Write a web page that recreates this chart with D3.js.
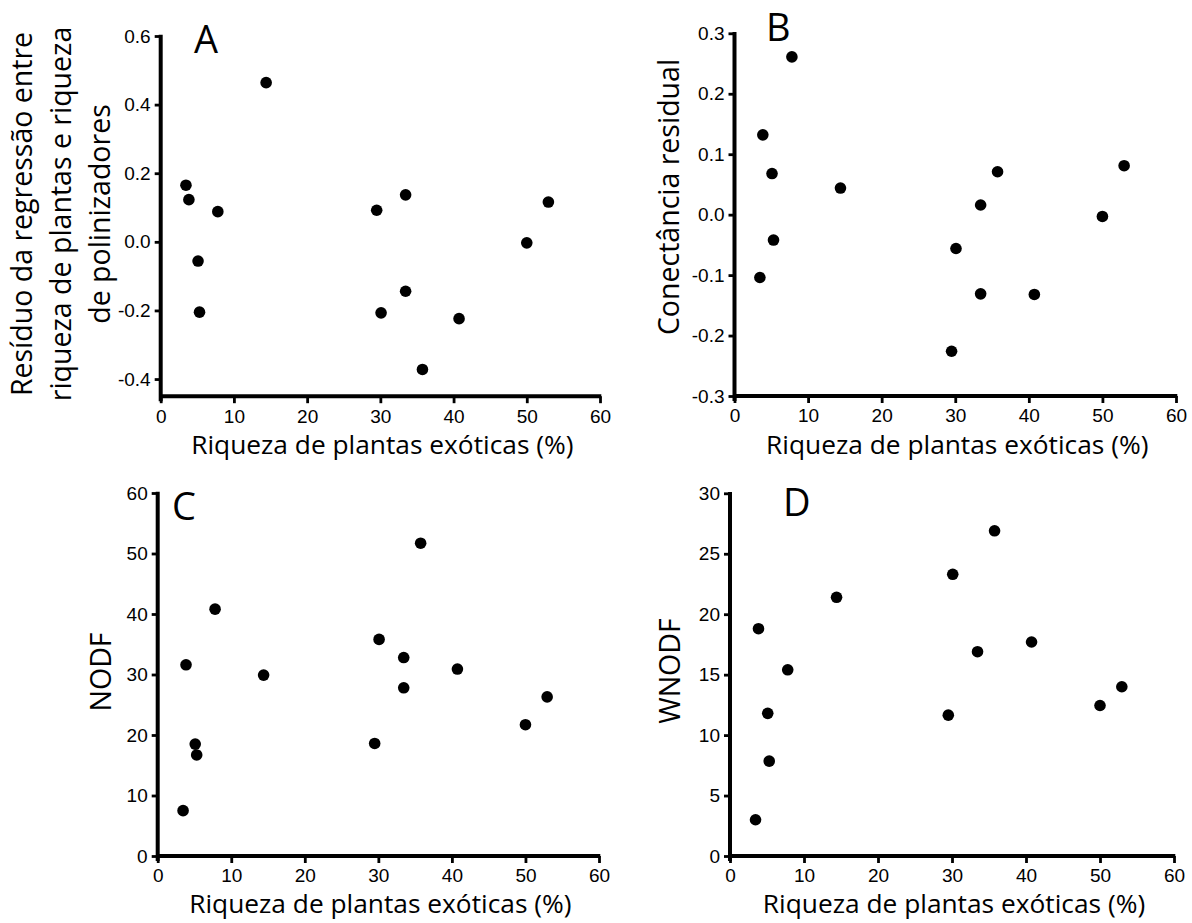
<!DOCTYPE html>
<html>
<head>
<meta charset="utf-8">
<script src="https://cdn.jsdelivr.net/npm/d3@7"></script>
<style>
  body { margin: 0; background: #fff; }
  svg { display: block; }
  .tick text { font-family: "Liberation Sans", Arial, sans-serif; }
</style>
</head>
<body>
<div id="chart"></div>
<script>
// % exotic plant richness per site (same sites in every panel)
const exoticRichness = [3.45, 3.85, 5.1, 5.3, 7.8, 14.4, 29.5, 30.1, 33.45, 33.45, 35.75, 40.75, 50.0, 52.95];

// A: residual of plant richness vs pollinator richness regression
const richnessResidual = [0.165, 0.123, -0.056, -0.205, 0.088, 0.464, 0.092, -0.207, 0.137, -0.144, -0.372, -0.224, -0.003, 0.116];
// B: residual connectance
const connectanceResidual = [-0.104, 0.132, 0.068, -0.042, 0.261, 0.044, -0.226, -0.056, 0.016, -0.131, 0.071, -0.132, -0.003, 0.081];
// C: NODF
const nodf = [7.5, 31.6, 18.5, 16.7, 40.8, 29.9, 18.6, 35.8, 32.8, 27.8, 51.7, 30.9, 21.7, 26.3];
// D: WNODF (one site not visible in the figure)
const wnodf = [3.0, 18.8, 11.8, 7.85, 15.4, 21.4, 11.65, 23.3, 16.9, null, 26.9, 17.7, 12.45, 14.0];

const xTicks = [0, 10, 20, 30, 40, 50, 60];
const ticksA = [-0.4, -0.2, 0.0, 0.2, 0.4, 0.6];
const ticksB = [-0.3, -0.2, -0.1, 0.0, 0.1, 0.2, 0.3];
const ticksC = [0, 10, 20, 30, 40, 50, 60];
const ticksD = [0, 5, 10, 15, 20, 25, 30];

const xTitle = "Riqueza de plantas exóticas (%)";

const width = 1192, height = 923;
const titleFont = "'Open Sans', 'Noto Sans', sans-serif";

// plain hyphen for negatives, like the original figure
const fmt1 = (d) => d3.format(".1f")(d).replace("\u2212", "-");
const fmt0 = d3.format("d");

const svg = d3.select("#chart").append("svg")
  .attr("width", width)
  .attr("height", height);

const panels = [
  { letter: "A", values: richnessResidual, ticks: ticksA, domain: [-0.45, 0.6], fmt: fmt1,
    left: 160.7, right: 600, top: 36, bottom: 396.2,
    yTitle: ["Resíduo da regressão entre", "riqueza de plantas e riqueza", "de polinizadores"],
    yTitleX: [32, 71, 110], yTitleY: 214, letterX: 194, letterY: 53, xTitleY: 454 },
  { letter: "B", values: connectanceResidual, ticks: ticksB, domain: [-0.3, 0.3], fmt: fmt1,
    left: 734.5, right: 1176, top: 33.3, bottom: 396,
    yTitle: ["Conectância residual"], yTitleX: [679], yTitleY: 197, letterX: 766, letterY: 41, xTitleY: 454 },
  { letter: "C", values: nodf, ticks: ticksC, domain: [0, 60], fmt: fmt0,
    left: 157.7, right: 599, top: 493, bottom: 856,
    yTitle: ["NODF"], yTitleX: [111], yTitleY: 672, letterX: 172, letterY: 520, xTitleY: 913 },
  { letter: "D", values: wnodf, ticks: ticksD, domain: [0, 30], fmt: fmt0,
    left: 730, right: 1174, top: 493.3, bottom: 856,
    yTitle: ["WNODF"], yTitleX: [680], yTitleY: 671, letterX: 783, letterY: 516, xTitleY: 913 }
];

panels.forEach((p) => {
  const x = d3.scaleLinear().domain([0, 60]).range([p.left, p.right]);
  const y = d3.scaleLinear().domain(p.domain).range([p.bottom, p.top]);
  const g = svg.append("g");

  // y axis (line runs from axis bottom to top tick)
  const yAxis = g.append("g")
    .attr("transform", "translate(" + p.left + ",0)")
    .call(d3.axisLeft(y).tickValues(p.ticks).tickFormat(p.fmt).tickSize(6).tickPadding(4).tickSizeOuter(0));
  yAxis.select(".domain").remove();
  yAxis.append("line")
    .attr("x1", 0).attr("x2", 0)
    .attr("y1", p.bottom + 5).attr("y2", y(p.ticks[p.ticks.length - 1]) - 1.3)
    .attr("stroke", "#000").attr("stroke-width", 4);

  const xAxis = g.append("g")
    .attr("transform", "translate(0," + p.bottom + ")")
    .call(d3.axisBottom(x).tickValues(xTicks).tickFormat(fmt0).tickSize(7).tickPadding(6).tickSizeOuter(0));
  xAxis.select(".domain").remove();
  xAxis.append("line")
    .attr("x1", p.left - 1.5).attr("x2", p.right + 1.3)
    .attr("y1", 0).attr("y2", 0)
    .attr("stroke", "#000").attr("stroke-width", 4);

  g.selectAll(".tick line").attr("stroke", "#000").attr("stroke-width", 2.8);
  g.selectAll(".tick text").attr("font-size", 19).attr("fill", "#000");

  // points
  g.selectAll("circle")
    .data(exoticRichness.map((v, i) => [v, p.values[i]]).filter((d) => d[1] !== null))
    .enter()
    .append("circle")
    .attr("cx", (d) => x(d[0]))
    .attr("cy", (d) => y(d[1]))
    .attr("r", 5.8)
    .attr("fill", "#000");

  // panel letter
  g.append("text")
    .attr("x", p.letterX).attr("y", p.letterY)
    .attr("font-family", titleFont).attr("font-size", 38)
    .attr("fill", "#000")
    .text(p.letter);

  // x title
  g.append("text")
    .attr("x", (p.left + p.right) / 2 + 2).attr("y", p.xTitleY)
    .attr("text-anchor", "middle")
    .attr("font-family", titleFont).attr("font-size", 26.3)
    .attr("fill", "#000")
    .text(xTitle);

  // y title (rotated, possibly several lines)
  p.yTitle.forEach((line, i) => {
    g.append("text")
      .attr("transform", "translate(" + p.yTitleX[i] + "," + p.yTitleY + ") rotate(-90)")
      .attr("text-anchor", "middle")
      .attr("font-family", titleFont).attr("font-size", 28.5)
      .attr("fill", "#000")
      .text(line);
  });
});
</script>
</body>
</html>
